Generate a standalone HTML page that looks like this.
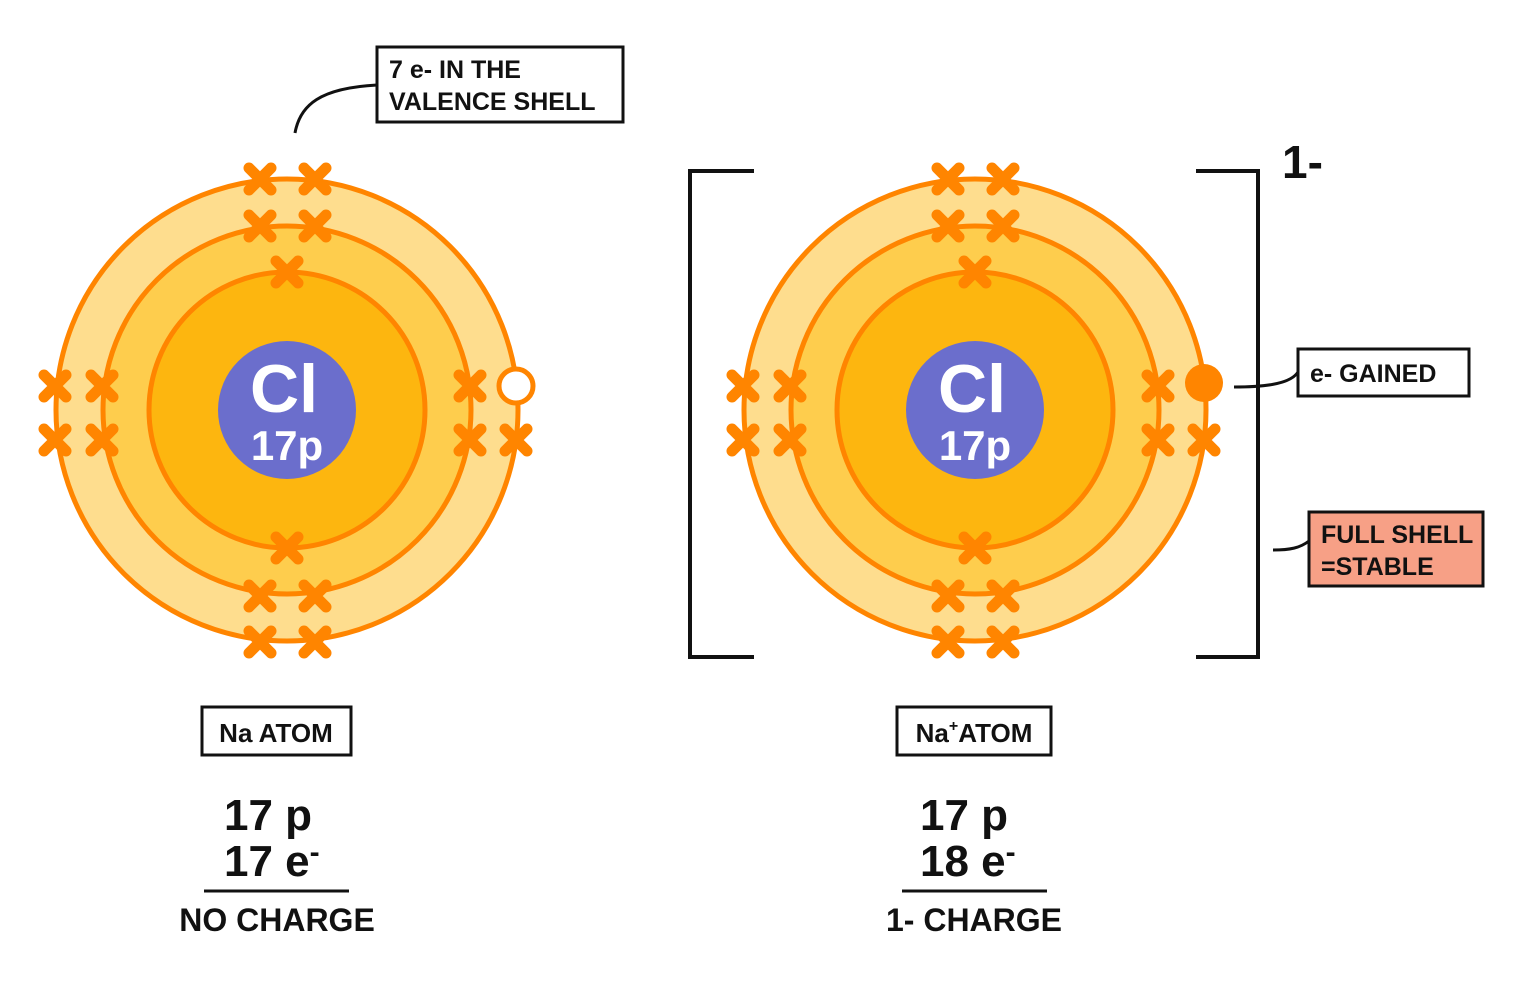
<!DOCTYPE html>
<html><head><meta charset="utf-8"><style>
html,body{margin:0;padding:0;background:#fff;}
svg{display:block;}
text{font-family:"Liberation Sans",sans-serif;font-weight:bold;}
</style></head><body>
<svg width="1536" height="1000" viewBox="0 0 1536 1000" xmlns="http://www.w3.org/2000/svg">
<defs>
<g id="x"><path d="M-11,-11L11,11M11,-11L-11,11" stroke="#ff8500" stroke-width="11" stroke-linecap="round"/></g>
<g id="atom">
<circle r="231" fill="#fedd8e" stroke="#ff8500" stroke-width="5"/>
<circle r="184" fill="#fecd4d" stroke="#ff8500" stroke-width="5"/>
<circle r="138" fill="#fdb60f" stroke="#ff8500" stroke-width="5"/>
<circle r="69" fill="#6b6ecc"/>
<use href="#x" x="-27" y="-231"/><use href="#x" x="28" y="-231"/>
<use href="#x" x="-27" y="-184"/><use href="#x" x="28" y="-184"/>
<use href="#x" x="0" y="-138"/><use href="#x" x="0" y="138"/>
<use href="#x" x="-27" y="186"/><use href="#x" x="28" y="186"/>
<use href="#x" x="-27" y="232"/><use href="#x" x="28" y="232"/>
<use href="#x" x="-232" y="-24"/><use href="#x" x="-232" y="30"/>
<use href="#x" x="-185" y="-24"/><use href="#x" x="-185" y="30"/>
<use href="#x" x="183" y="-24"/><use href="#x" x="183" y="30"/>
<use href="#x" x="229" y="30"/>
</g>
</defs>
<use href="#atom" x="287" y="410"/>
<circle cx="516" cy="386" r="17" fill="#fff" stroke="#ff8500" stroke-width="5"/>
<text x="284" y="412" font-size="68" fill="#fff" text-anchor="middle">Cl</text>
<text x="287" y="460" font-size="42" fill="#fff" text-anchor="middle">17p</text>

<use href="#atom" x="975" y="410"/>
<circle cx="1204" cy="383" r="19" fill="#ff8500"/>
<text x="972" y="412" font-size="68" fill="#fff" text-anchor="middle">Cl</text>
<text x="975" y="460" font-size="42" fill="#fff" text-anchor="middle">17p</text>

<path d="M754,171H690V657H754" fill="none" stroke="#111" stroke-width="4"/>
<path d="M1196,171H1258V657H1196" fill="none" stroke="#111" stroke-width="4"/>
<text x="1282" y="178" font-size="46" fill="#111">1-</text>

<path d="M295,133C300,105 320,88 377,85" fill="none" stroke="#111" stroke-width="3"/>
<rect x="377" y="47" width="246" height="75" fill="#fff" stroke="#111" stroke-width="3"/>
<text x="389" y="78" font-size="25" fill="#111">7 e- IN THE</text>
<text x="389" y="110" font-size="25" fill="#111">VALENCE SHELL</text>

<path d="M1234,387C1260,387 1290,385 1298,372" fill="none" stroke="#111" stroke-width="3"/>
<rect x="1298" y="349" width="171" height="47" fill="#fff" stroke="#111" stroke-width="3"/>
<text x="1310" y="382" font-size="25" fill="#111">e- GAINED</text>

<path d="M1273,550C1290,550 1300,548 1309,541" fill="none" stroke="#111" stroke-width="3"/>
<rect x="1309" y="512" width="174" height="74" fill="#f7a086" stroke="#111" stroke-width="3"/>
<text x="1321" y="543" font-size="25" fill="#111">FULL SHELL</text>
<text x="1321" y="575" font-size="25" fill="#111">=STABLE</text>

<rect x="202" y="707" width="149" height="48" fill="#fff" stroke="#111" stroke-width="3"/>
<text x="276" y="742" font-size="26" fill="#111" text-anchor="middle">Na ATOM</text>
<rect x="897" y="707" width="154" height="48" fill="#fff" stroke="#111" stroke-width="3"/>
<text x="974" y="742" font-size="26" fill="#111" text-anchor="middle">Na<tspan font-size="16" dy="-11">+</tspan><tspan dy="11">ATOM</tspan></text>

<text x="224" y="830" font-size="44" fill="#111">17 p</text>
<text x="224" y="876" font-size="44" fill="#111">17 e<tspan font-size="30" dy="-14">-</tspan></text>
<line x1="204" y1="891" x2="349" y2="891" stroke="#111" stroke-width="3"/>
<text x="277" y="931" font-size="32" fill="#111" text-anchor="middle">NO CHARGE</text>

<text x="920" y="830" font-size="44" fill="#111">17 p</text>
<text x="920" y="876" font-size="44" fill="#111">18 e<tspan font-size="30" dy="-14">-</tspan></text>
<line x1="902" y1="891" x2="1047" y2="891" stroke="#111" stroke-width="3"/>
<text x="974" y="931" font-size="32" fill="#111" text-anchor="middle">1- CHARGE</text>
</svg>
</body></html>
